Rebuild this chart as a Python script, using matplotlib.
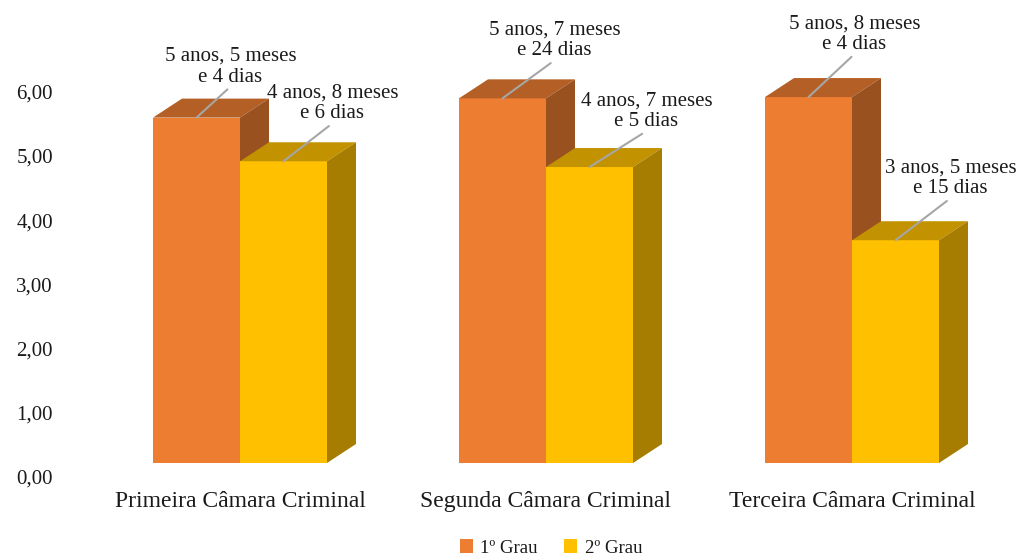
import matplotlib
matplotlib.use("Agg")
import matplotlib.pyplot as plt
from matplotlib.patches import Polygon, Patch
from matplotlib.transforms import ScaledTranslation

# data (tempo medio em anos)
camaras = ["Primeira Câmara Criminal", "Segunda Câmara Criminal", "Terceira Câmara Criminal"]
series = ["1º Grau", "2º Grau"]
primeiro_grau = [5.38, 5.68, 5.70]
segundo_grau = [4.70, 4.61, 3.47]
rotulos_1 = ["5 anos, 5 meses\ne 4 dias", "5 anos, 7 meses\ne 24 dias", "5 anos, 8 meses\ne 4 dias"]
rotulos_2 = ["4 anos, 8 meses\ne 6 dias", "4 anos, 7 meses\ne 5 dias", "3 anos, 5 meses\ne 15 dias"]
yticks = [0, 1, 2, 3, 4, 5, 6]

# colours: front, top, side
ORANGE = ("#ED7D31", "#B45F25", "#9A5120")
YELLOW = ("#FFC000", "#C29200", "#A67D00")
TEXT = "#1a1a1a"

# layout (pixel based)
W_PX, H_PX = 1022, 556
X_PER_UNIT = 306.0
Y_PER_UNIT = 64.2
BAR_W = 87 / X_PER_UNIT
DX = 29 / X_PER_UNIT
DY = 19 / Y_PER_UNIT
# leader line offsets (px) from top of the front face
offs_1 = [(34, 29), (52, 36), (46, 41)]
offs_2 = [(49, 36), (57, 34), (55, 40)]

plt.rcParams["font.family"] = ["Liberation Serif", "DejaVu Serif"]

fig = plt.figure(figsize=(W_PX / 100, H_PX / 100), dpi=100)
left, right, top, bottom = 60, 1000, 0, 480
ax = fig.add_axes([left / W_PX, 1 - bottom / H_PX, (right - left) / W_PX, (bottom - top) / H_PX])
ax.set_xlim((left - 240) / X_PER_UNIT, (right - 240) / X_PER_UNIT)
ax.set_ylim((463 - bottom) / Y_PER_UNIT, (463 - top) / Y_PER_UNIT)


def bar3d(x0, h, colors):
    front, topc, side = colors
    x1 = x0 + BAR_W
    ax.add_patch(Polygon([(x0, 0), (x1, 0), (x1, h), (x0, h)], closed=True,
                         facecolor=front, edgecolor="none", zorder=2))
    ax.add_patch(Polygon([(x0, h), (x1, h), (x1 + DX, h + DY), (x0 + DX, h + DY)], closed=True,
                         facecolor=topc, edgecolor="none", zorder=2))
    ax.add_patch(Polygon([(x1, 0), (x1 + DX, DY), (x1 + DX, h + DY), (x1, h)], closed=True,
                         facecolor=side, edgecolor="none", zorder=2))


def label(x, h, text, off):
    ax.annotate(text, xy=(x, h), xytext=(off[0], off[1] + 2), textcoords="offset pixels",
                ha="center", va="bottom", fontsize=15, linespacing=1.12, color=TEXT,
                arrowprops=dict(arrowstyle="-", color="#A6A6A6", lw=1.5,
                                relpos=(0.5, 0), shrinkA=0, shrinkB=0),
                zorder=4)


for i in range(len(camaras)):
    bar3d(i - BAR_W, primeiro_grau[i], ORANGE)
    bar3d(i, segundo_grau[i], YELLOW)
    label(i - BAR_W / 2, primeiro_grau[i], rotulos_1[i], offs_1[i])
    label(i + BAR_W / 2, segundo_grau[i], rotulos_2[i], offs_2[i])

for s in ax.spines.values():
    s.set_visible(False)

ax.set_yticks(yticks)
ax.set_yticklabels([f"{v:.2f}".replace(".", ",") for v in yticks])
ax.tick_params(axis="y", length=0, pad=5, labelsize=15, labelcolor=TEXT)
shift = ScaledTranslation(0, -14 / 100, fig.dpi_scale_trans)
for t in ax.get_yticklabels():
    t.set_transform(t.get_transform() + shift)

ax.set_xticks(range(len(camaras)))
ax.set_xticklabels(camaras)
ax.tick_params(axis="x", length=0, pad=8, labelsize=17, labelcolor=TEXT)

handles = [Patch(facecolor=ORANGE[0]), Patch(facecolor=YELLOW[0])]
fig.legend(handles, series, loc="center", bbox_to_anchor=(551 / W_PX, 1 - 548 / H_PX),
           ncol=2, frameon=False, fontsize=13.5, handlelength=0.7, handleheight=0.7,
           handletextpad=0.4, columnspacing=1.4, labelcolor=TEXT)

fig.savefig("out.png", dpi=100, facecolor="white")
